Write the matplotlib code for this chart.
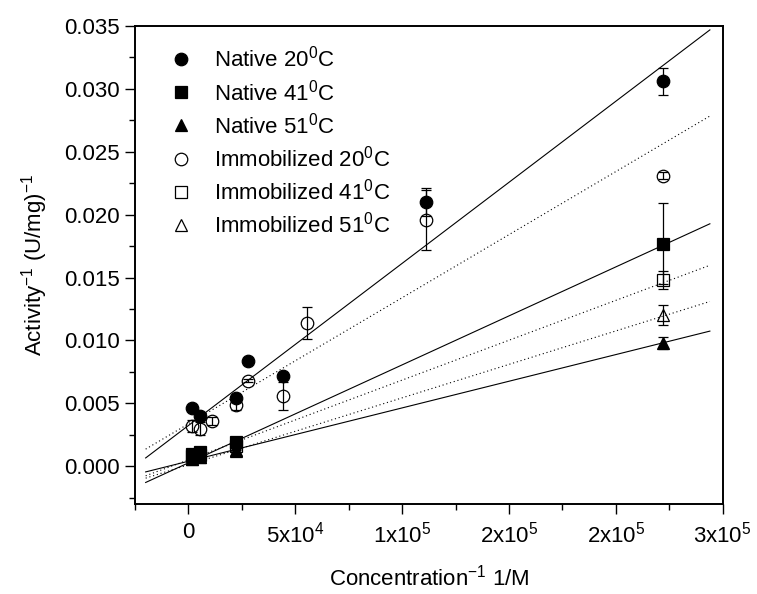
import numpy as np
import matplotlib
matplotlib.use("Agg")
import matplotlib.pyplot as plt
from matplotlib.lines import Line2D
from matplotlib.ticker import MultipleLocator, FixedLocator

plt.rcParams['font.family'] = ['Liberation Sans', 'DejaVu Sans']
plt.rcParams['mathtext.fontset'] = 'custom'
plt.rcParams['mathtext.rm'] = 'Liberation Sans'
plt.rcParams['mathtext.it'] = 'Liberation Sans'

# Lineweaver-Burk data: 1/[S] (1/M) vs 1/activity (U/mg)^-1
x_native_20 = [1800, 5200, 22200, 27800, 44400, 111100, 222200]
y_native_20 = [0.0046, 0.0040, 0.0054, 0.0084, 0.0072, 0.0210, 0.0306]
e_native_20 = [0.0002, 0.0002, 0.0003, 0.0002, 0.0002, 0.0011, 0.0011]

x_native_41 = [1800, 5200, 22200, 222200]
y_native_41 = [0.0010, 0.0011, 0.0019, 0.0177]
e_native_41 = [0.0003, 0.0003, 0.0004, 0.0032]

x_native_51 = [1800, 5200, 22200, 222200]
y_native_51 = [0.0006, 0.0007, 0.0013, 0.0098]
e_native_51 = [0.0002, 0.0002, 0.0002, 0.0005]

x_immob_20 = [1800, 5200, 11100, 22200, 27800, 44400, 55600, 111100, 222200]
y_immob_20 = [0.0032, 0.0030, 0.0036, 0.0049, 0.0068, 0.0056, 0.0114, 0.0196, 0.0231]
e_immob_20 = [0.0005, 0.0005, 0.0003, 0.0004, 0.0001, 0.0011, 0.0013, 0.0024, 0.0003]

x_immob_41 = [1800, 5200, 22200, 222200]
y_immob_41 = [0.0008, 0.0009, 0.0016, 0.0148]
e_immob_41 = [0.0003, 0.0003, 0.0003, 0.0007]

x_immob_51 = [1800, 5200, 22200, 222200]
y_immob_51 = [0.0006, 0.0007, 0.0012, 0.0120]
e_immob_51 = [0.0002, 0.0002, 0.0002, 0.0008]

# linear fits (slope, intercept) drawn over an extended range
fit_slope = [1.289e-7, 7.79e-8, 4.24e-8, 1.003e-7, 6.34e-8, 5.32e-8]
fit_intercept = [0.00324, 0.00027, 0.00040, 0.00337, 0.00051, 0.00012]
fit_range = [-20000, 244000]

labels = ['Native 20$^0$C', 'Native 41$^0$C', 'Native 51$^0$C',
          'Immobilized 20$^0$C', 'Immobilized 41$^0$C', 'Immobilized 51$^0$C']
xtick_vals = [0, 50000, 100000, 150000, 200000, 250000]
xtick_labels = ['0', '5x10$^4$', '1x10$^5$', '2x10$^5$', '2x10$^5$', '3x10$^5$']

series = [
    (x_native_20, y_native_20, e_native_20),
    (x_native_41, y_native_41, e_native_41),
    (x_native_51, y_native_51, e_native_51),
    (x_immob_20, y_immob_20, e_immob_20),
    (x_immob_41, y_immob_41, e_immob_41),
    (x_immob_51, y_immob_51, e_immob_51),
]
markers = ['o', 's', '^', 'o', 's', '^']
sizes = [9, 8, 9, 9, 8, 9]
filled = [True, True, True, False, False, False]
fit_styles = ['-', '-', '-', (0, (1, 2.5)), (0, (1, 2.5)), (0, (1, 2.5))]

fig = plt.figure(figsize=(7.57, 5.94), dpi=100)
ax = fig.add_axes([0.1783, 0.1515, 0.7764, 0.8047])

xs = np.array(fit_range)
for k in range(6):
    ax.plot(xs, fit_slope[k] * xs + fit_intercept[k], color='black',
            lw=0.8, ls=fit_styles[k], zorder=2)

handles = []
for k, (xv, yv, ev) in enumerate(series):
    face = 'black' if filled[k] else 'none'
    ax.errorbar(xv, yv, yerr=ev, fmt=markers[k], ms=sizes[k], mfc=face,
                mec='black', mew=0.9, ecolor='black', elinewidth=0.9,
                capsize=3.5, capthick=0.9, zorder=3)
    handles.append(Line2D([], [], ls='none', marker=markers[k],
                          ms=sizes[k], mfc=face, mec='black', mew=0.9))

ax.set_xlim(-25000, 250000)
ax.set_ylim(-0.003, 0.035)

ax.xaxis.set_major_locator(FixedLocator(xtick_vals))
ax.set_xticklabels(xtick_labels)
ax.xaxis.set_minor_locator(MultipleLocator(25000))
ax.yaxis.set_major_locator(MultipleLocator(0.005))
ax.yaxis.set_minor_locator(MultipleLocator(0.0025))
ax.yaxis.set_major_formatter(plt.FuncFormatter(lambda v, p: f'{v:.3f}'))

ax.tick_params(which='major', direction='out', length=7, width=1.0,
               labelsize=16, top=False, right=False)
ax.tick_params(which='minor', direction='out', length=4, width=1.0,
               top=False, right=False)
ax.tick_params(axis='x', pad=6)
ax.tick_params(axis='y', pad=4)
for sp in ax.spines.values():
    sp.set_linewidth(1.4)

ax.set_xlabel('Concentration$^{-1}$ 1/M', fontsize=16, labelpad=12)
ax.set_ylabel('Activity$^{-1}$ (U/mg)$^{-1}$', fontsize=16, labelpad=10)

ax.legend(handles, labels, loc='upper left', bbox_to_anchor=(0.04, 0.977),
          frameon=False, fontsize=16, handletextpad=0.88, labelspacing=0.33,
          handlelength=1.2, borderaxespad=0)

fig.savefig('out.png', dpi=100)
